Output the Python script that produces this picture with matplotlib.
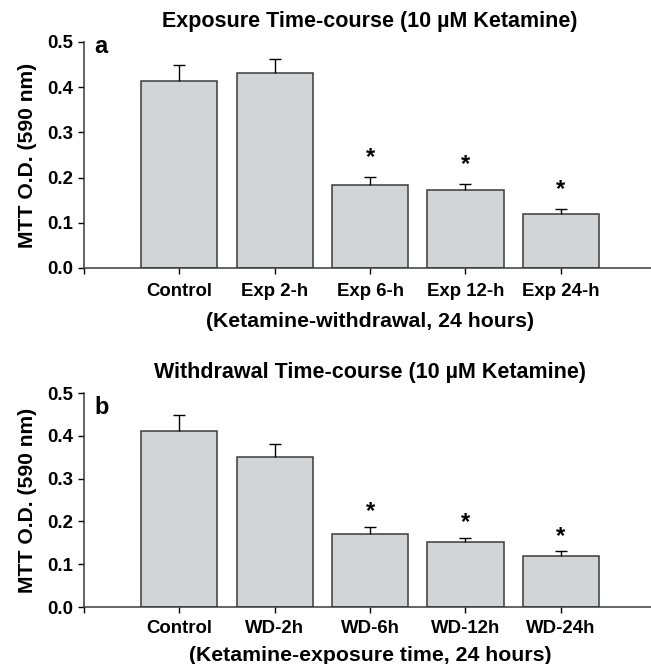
import matplotlib
matplotlib.use("Agg")
import matplotlib.pyplot as plt

plt.rcParams["font.family"] = ["Liberation Sans", "DejaVu Sans"]
plt.rcParams["font.weight"] = "bold"

# panel a: exposure time-course
EXP_LABELS = ["Control", "Exp 2-h", "Exp 6-h", "Exp 12-h", "Exp 24-h"]
EXP_MEAN = [0.414, 0.432, 0.184, 0.173, 0.119]
EXP_SEM = [0.035, 0.030, 0.018, 0.013, 0.012]
EXP_SIG = [False, False, True, True, True]

# panel b: withdrawal time-course
WD_LABELS = ["Control", "WD-2h", "WD-6h", "WD-12h", "WD-24h"]
WD_MEAN = [0.412, 0.350, 0.170, 0.152, 0.120]
WD_SEM = [0.036, 0.032, 0.018, 0.010, 0.010]
WD_SIG = [False, False, True, True, True]

Y_TICKS = [0.0, 0.1, 0.2, 0.3, 0.4, 0.5]

BAR_COLOR = "#d3d4d6"
EDGE_COLOR = "#3a3a3a"


def draw_panel(ax, labels, means, sems, sig, title, xlabel, letter, letter_y,
               star_off, tick_pad, label_pad):
    x = list(range(1, len(labels) + 1))
    ax.bar(x, means, width=0.8, color=BAR_COLOR, edgecolor=EDGE_COLOR, linewidth=1.1, zorder=2)
    # only the upper half of the error bar, like the original
    _, caps, _ = ax.errorbar(x, means, yerr=[[0] * len(sems), sems], fmt="none", ecolor="black",
                             elinewidth=1.0, capsize=4.5, capthick=1.0, zorder=3)
    caps[0].set_visible(False)
    for xi, m, s, flag in zip(x, means, sems, sig):
        if flag:
            ax.annotate("*", (xi, m + s), textcoords="offset points", xytext=(0, star_off),
                        ha="center", va="center", fontsize=17, fontweight="bold")

    ax.set_xlim(0, 6)
    ax.set_ylim(0, 0.5)
    ax.set_xticks([0] + x)
    ax.set_xticklabels([""] + labels)
    ax.set_yticks(Y_TICKS)
    ax.set_yticklabels([f"{v:.1f}" for v in Y_TICKS])
    ax.tick_params(direction="out", length=4, width=1.0, labelsize=13.4, pad=4)
    ax.tick_params(axis="x", pad=tick_pad)
    for side in ("top", "right"):
        ax.spines[side].set_visible(False)
    for side in ("left", "bottom"):
        ax.spines[side].set_linewidth(1.1)
        ax.spines[side].set_color(EDGE_COLOR)

    ax.set_title(title, fontsize=15.5, fontweight="bold", pad=11)
    ax.set_xlabel(xlabel, fontsize=15.3, fontweight="bold", labelpad=label_pad)
    ax.set_ylabel("MTT O.D. (590 nm)", fontsize=15.2, fontweight="bold", labelpad=7)
    ax.text(0.018, letter_y, letter, transform=ax.transAxes, fontsize=17,
            fontweight="bold", ha="left", va="baseline")


fig = plt.figure(figsize=(6.51, 6.64), dpi=100)
ax_a = fig.add_axes([0.129, 0.5964, 0.879, 0.3404])
ax_b = fig.add_axes([0.129, 0.0858, 0.879, 0.3223])

draw_panel(ax_a, EXP_LABELS, EXP_MEAN, EXP_SEM, EXP_SIG,
           "Exposure Time-course (10 µM Ketamine)",
           "(Ketamine-withdrawal, 24 hours)", "a", 0.95, 14, 6.5, 9)
draw_panel(ax_b, WD_LABELS, WD_MEAN, WD_SEM, WD_SIG,
           "Withdrawal Time-course (10 µM Ketamine)",
           "(Ketamine-exposure time, 24 hours)", "b", 0.9, 11, 5.5, 6)

fig.savefig("out.png", dpi=100)
